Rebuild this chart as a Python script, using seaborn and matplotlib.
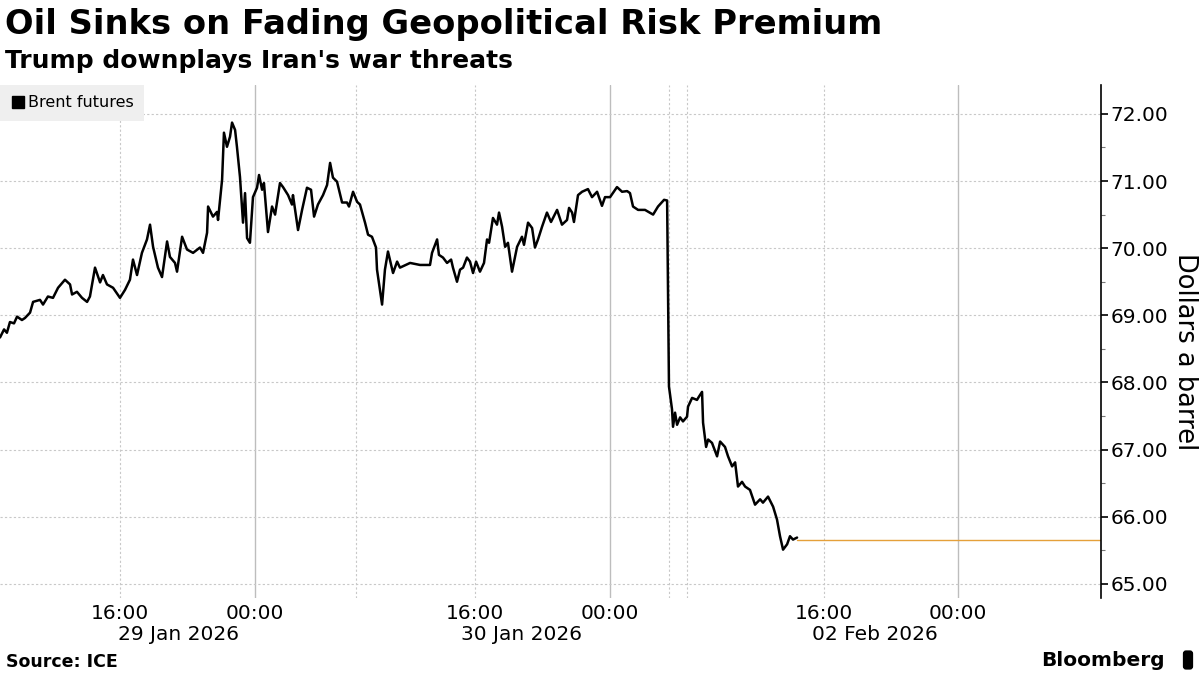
import matplotlib
matplotlib.use("Agg")
import matplotlib.pyplot as plt
from matplotlib.lines import Line2D
from matplotlib.ticker import FixedLocator, MultipleLocator, FormatStrFormatter
import matplotlib.transforms as mtransforms
import pandas as pd
import seaborn as sns

# Brent futures; x = compressed trading hours from chart start
hours = [
    0.00, 0.24, 0.41, 0.59, 0.83, 1.01, 1.30, 1.48, 1.78, 1.96, 2.37, 2.55, 2.84,
    3.14, 3.44, 3.85, 4.15, 4.27, 4.56, 4.86, 5.16, 5.33, 5.63, 5.93, 6.10, 6.34,
    6.70, 7.11, 7.41, 7.70, 7.88, 8.12, 8.41, 8.71, 8.89, 9.07, 9.36, 9.60, 9.90,
    10.07, 10.37, 10.49, 10.79, 11.08, 11.44, 11.85, 12.03, 12.27, 12.33, 12.62,
    12.86, 12.92, 13.16, 13.27, 13.45, 13.63, 13.75, 13.93, 14.04, 14.22, 14.40,
    14.52, 14.64, 14.81, 14.99, 15.23, 15.35, 15.53, 15.64, 15.88, 16.12, 16.30,
    16.59, 16.77, 17.07, 17.30, 17.36, 17.66, 17.90, 18.19, 18.43, 18.61, 18.84,
    19.14, 19.38, 19.56, 19.73, 19.97, 20.27, 20.56, 20.68, 20.92, 21.16, 21.33,
    21.63, 21.81, 22.04, 22.28, 22.34, 22.64, 22.81, 22.99, 23.29, 23.53, 23.70,
    24.30, 24.89, 25.48, 25.60, 25.90, 26.01, 26.25, 26.49, 26.73, 26.84, 27.08,
    27.26, 27.44, 27.67, 27.85, 28.03, 28.21, 28.44, 28.68, 28.86, 28.98, 29.21,
    29.45, 29.57, 29.75, 29.93, 30.10, 30.34, 30.64, 30.93, 31.05, 31.29, 31.53,
    31.70, 31.88, 32.12, 32.41, 32.65, 33.01, 33.30, 33.60, 33.72, 33.90, 34.01,
    34.25, 34.49, 34.84, 35.08, 35.38, 35.67, 35.85, 36.15, 36.56, 36.86, 37.16,
    37.33, 37.51, 37.81, 38.22, 38.70, 38.99, 39.35, 39.53, 39.64, 39.82, 39.88,
    40.00, 40.12, 40.30, 40.47, 40.71, 40.77, 41.01, 41.30, 41.42, 41.60, 41.66,
    41.84, 41.96, 42.19, 42.49, 42.67, 42.96, 43.14, 43.38, 43.56, 43.73, 43.97,
    44.15, 44.44, 44.74, 45.04, 45.21, 45.51, 45.81, 46.04, 46.22, 46.40, 46.64,
    46.81, 46.99, 47.23,
]
brent = [
    68.67, 68.79, 68.74, 68.90, 68.88, 68.98, 68.93, 68.96, 69.04, 69.20, 69.23, 69.16, 69.28,
    69.26, 69.41, 69.53, 69.46, 69.31, 69.35, 69.26, 69.20, 69.28, 69.71, 69.49, 69.60, 69.46,
    69.41, 69.26, 69.38, 69.53, 69.83, 69.60, 69.93, 70.13, 70.35, 70.02, 69.71, 69.57, 70.10,
    69.87, 69.78, 69.65, 70.17, 69.98, 69.93, 70.01, 69.93, 70.23, 70.62, 70.47,
    70.54, 70.42, 71.02, 71.72, 71.51, 71.66, 71.87, 71.76, 71.51, 71.06, 70.38,
    70.82, 70.15, 70.08, 70.76, 70.90, 71.09, 70.87, 70.97, 70.24, 70.62, 70.50,
    70.97, 70.91, 70.79, 70.65, 70.79, 70.27, 70.57, 70.90, 70.87, 70.47, 70.65,
    70.79, 70.94, 71.27, 71.05, 70.99, 70.68, 70.68, 70.62, 70.84, 70.69, 70.65,
    70.38, 70.20, 70.17, 70.01, 69.68, 69.16, 69.68, 69.95, 69.63, 69.80, 69.71,
    69.78, 69.75, 69.75, 69.93, 70.13, 69.90, 69.86, 69.78, 69.83, 69.71, 69.50,
    69.68, 69.71, 69.86, 69.80, 69.63, 69.80, 69.65, 69.78, 70.13, 70.08, 70.45,
    70.35, 70.53, 70.32, 70.02, 70.08, 69.65, 70.02, 70.17, 70.05, 70.38, 70.30,
    70.01, 70.13, 70.32, 70.53, 70.39, 70.57, 70.35, 70.42, 70.60, 70.53, 70.39,
    70.79, 70.84, 70.88, 70.76, 70.84, 70.63, 70.76, 70.76, 70.91, 70.84, 70.85,
    70.82, 70.62, 70.57, 70.57, 70.50, 70.62, 70.72, 70.71, 67.94, 67.60, 67.34,
    67.55, 67.37, 67.48, 67.42, 67.49, 67.64, 67.77, 67.74, 67.79, 67.86, 67.40,
    67.04, 67.15, 67.10, 66.90, 67.12, 67.04, 66.90, 66.75, 66.81, 66.45, 66.52,
    66.45, 66.40, 66.18, 66.26, 66.21, 66.30, 66.15, 65.96, 65.71, 65.51, 65.59,
    65.71, 65.66, 65.69,
]
last_price = 65.66
x_end = 65.24

time_ticks = [7.11, 15.11, 28.15, 36.15, 48.83, 56.77]
time_labels = ["16:00", "00:00", "16:00", "00:00", "16:00", "00:00"]
midnight_lines = [15.11, 36.15, 56.77]
dotted_lines = [7.11, 21.10, 28.15, 39.64, 40.71, 48.83]
date_pos = [10.55, 30.93, 51.85]
date_labels = ["29 Jan 2026", "30 Jan 2026", "02 Feb 2026"]

df = pd.DataFrame({"hour": hours, "price": brent})

sns.set_style("white")
plt.rcParams["font.family"] = ["DejaVu Sans"]
plt.rcParams["text.color"] = "black"
plt.rcParams["xtick.color"] = "black"
plt.rcParams["ytick.color"] = "black"

fig = plt.figure(figsize=(12, 6.75), dpi=100)
ax = fig.add_axes([0.0, 1 - 598 / 675, 1101 / 1200, (598 - 85) / 675])

# grid
for v in midnight_lines:
    ax.axvline(v, color="#bdbdbd", lw=1, zorder=0)
for v in dotted_lines:
    ax.axvline(v, color="#c8c8c8", lw=0.8, ls=(0, (2, 2)), zorder=0)
for yv in range(65, 73):
    ax.axhline(yv, color="#c8c8c8", lw=0.8, ls=(0, (2, 2)), zorder=0)

sns.lineplot(data=df, x="hour", y="price", color="black", lw=1.8, ax=ax,
             estimator=None, sort=False)
ax.plot([hours[-1], x_end], [last_price, last_price], color="#e5a03a", lw=1)

ax.set_xlim(0, x_end)
ax.set_ylim(64.79, 72.43)

# y axis on right
ax.yaxis.tick_right()
ax.yaxis.set_major_locator(MultipleLocator(1))
ax.yaxis.set_minor_locator(MultipleLocator(0.5))
ax.yaxis.set_major_formatter(FormatStrFormatter("%.2f"))
ax.tick_params(axis="y", which="major", direction="out", length=5, width=1.2,
               colors="black", labelsize=14.5, pad=2, right=True, left=False)
ax.tick_params(axis="y", which="minor", direction="out", length=3, width=0.8,
               color="#777777", right=True, left=False)
for s in ["left", "top", "bottom"]:
    ax.spines[s].set_visible(False)
ax.spines["right"].set_color("black")
ax.spines["right"].set_linewidth(1.2)

ax.xaxis.set_major_locator(FixedLocator(time_ticks))
ax.set_xticklabels(time_labels)
ax.tick_params(axis="x", length=0, labelsize=14.5, pad=4, colors="black")
ax.set_xlabel("")
ax.set_ylabel("")

trans = mtransforms.blended_transform_factory(ax.transData, ax.transAxes)
for p, lab in zip(date_pos, date_labels):
    ax.text(p, -0.072, lab, transform=trans, ha="center", va="center",
            fontsize=14.5, color="black")

fig.text(1185 / 1200, 1 - 352 / 675, "Dollars a barrel", rotation=270,
         ha="center", va="center", fontsize=18.5, color="black")

# legend
handle = Line2D([], [], marker="s", color="black", ls="none", markersize=8)
leg = ax.legend([handle], ["Brent futures"], loc="upper left", bbox_to_anchor=(0, 1),
                borderaxespad=0, frameon=True, fontsize=11.5, handletextpad=0.1,
                handlelength=1.0, borderpad=0.65, fancybox=False)
leg.get_frame().set_facecolor("#efefef")
leg.get_frame().set_edgecolor("none")
leg.get_frame().set_alpha(1)
for t in leg.get_texts():
    t.set_color("black")

fig.text(0.004, 1 - 8 / 675, "Oil Sinks on Fading Geopolitical Risk Premium",
         ha="left", va="top", fontsize=24.3, fontweight="bold", color="black")
fig.text(0.004, 1 - 49 / 675, "Trump downplays Iran's war threats",
         ha="left", va="top", fontsize=18, fontweight="bold", color="black")
fig.text(0.005, 1 - 662 / 675, "Source: ICE", ha="left", va="center",
         fontsize=12.5, fontweight="bold", color="black")
fig.text(1165 / 1200, 1 - 660 / 675, "Bloomberg", ha="right", va="center",
         fontsize=14.5, fontweight="bold", color="black")
fig.text(1188 / 1200, 1 - 660 / 675, " ", ha="center", va="center", fontsize=9,
         bbox=dict(boxstyle="round,pad=0.25", facecolor="black", edgecolor="none"))

fig.savefig("out.png", dpi=100)
